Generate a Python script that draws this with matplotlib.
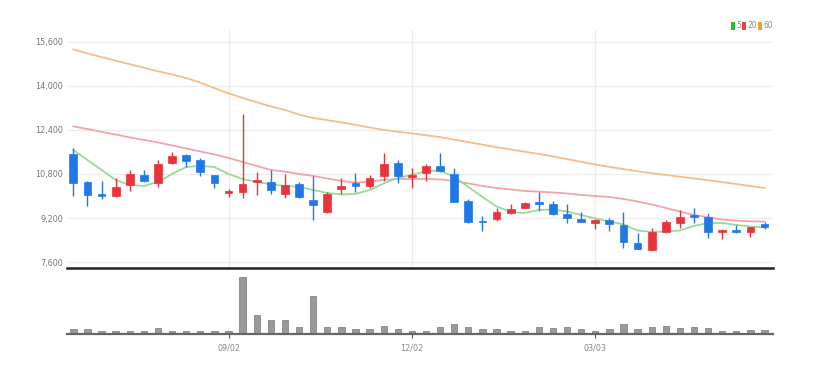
import matplotlib
matplotlib.use("Agg")
import matplotlib.pyplot as plt
from matplotlib.patches import Rectangle
import numpy as np

# ---------------- data (weekly candles) ----------------
opens = [11515, 10499, 10086, 10013, 10401, 10764, 10485, 11210, 11490, 11308,
         10764, 10111, 10158, 10521, 10499, 10064, 10437, 9868, 9432, 10267,
         10474, 10365, 10717, 11199, 10702, 10826, 11101, 10789, 9821, 9106,
         9168, 9374, 9578, 9774, 9723, 9338, 9157, 9012, 9142, 8950,
         8286, 8043, 8707, 9033, 9313, 9251, 8696, 8780, 8707, 8975]
highs = [11733, 10546, 10546, 10655, 10934, 10945, 11319, 11609, 11515, 11370,
         10764, 10245, 12977, 10862, 10934, 10789, 10521, 10739, 10136, 10666,
         10847, 10764, 11551, 11308, 11007, 11174, 11551, 11007, 9893, 9287,
         9556, 9701, 9795, 10136, 9821, 9712, 9411, 9157, 9193, 9411,
         8649, 8852, 9131, 9494, 9578, 9375, 8805, 8950, 8888, 9070]
lows = [10013, 9650, 9893, 9966, 10183, 10521, 10318, 11174, 11065, 10739,
        10281, 9977, 9919, 10038, 10064, 9919, 9940, 9131, 9374, 10064,
        10136, 10303, 10546, 10463, 10281, 10546, 10884, 9774, 9022, 8732,
        9095, 9338, 9556, 9458, 9313, 9012, 9048, 8805, 8732, 8105,
        8079, 8018, 8649, 8830, 9012, 8467, 8442, 8671, 8526, 8805]
closes = [10463, 10038, 10013, 10318, 10789, 10546, 11174, 11453, 11283, 10884,
          10463, 10172, 10437, 10593, 10220, 10390, 9977, 9665, 10086, 10354,
          10376, 10655, 11174, 10717, 10764, 11101, 10909, 9795, 9048, 9048,
          9411, 9520, 9759, 9712, 9360, 9193, 9059, 9120, 8986, 8322,
          8079, 8707, 9070, 9251, 9240, 8707, 8769, 8696, 8867, 8888]
ma5 = [11671, 11308, 10945, 10583, 10401, 10365, 10510, 10800, 11054, 11090,
       11054, 10800, 10619, 10510, 10419, 10365, 10329, 10220, 10111, 10057,
       10075, 10220, 10455, 10655, 10764, 10909, 10927, 10691, 10329, 9966,
       9621, 9422, 9385, 9494, 9512, 9440, 9313, 9186, 9077, 8968,
       8750, 8696, 8714, 8750, 8914, 9022, 9022, 8950, 8896, 8859]
ma20 = [12523, 12433, 12324, 12233, 12124, 12034, 11943, 11834, 11725, 11616,
        11508, 11381, 11236, 11090, 10945, 10884, 10800, 10728, 10637, 10546,
        10484, 10528, 10583, 10619, 10619, 10619, 10601, 10546, 10456, 10365,
        10292, 10238, 10183, 10158, 10129, 10093, 10038, 10002, 9966, 9893,
        9803, 9694, 9567, 9440, 9313, 9229, 9149, 9106, 9084, 9070]
ma60 = [15317, 15172, 15038, 14907, 14780, 14653, 14526, 14406, 14279, 14109,
        13913, 13724, 13558, 13401, 13249, 13122, 12952, 12832, 12752, 12672,
        12578, 12487, 12397, 12331, 12270, 12204, 12135, 12045, 11954, 11863,
        11773, 11689, 11606, 11526, 11435, 11337, 11239, 11141, 11058, 10978,
        10898, 10829, 10764, 10702, 10637, 10571, 10506, 10434, 10361, 10292]
volumes = [5, 5, 3.3, 2.7, 3.3, 2.7, 5.7, 3.3, 2.7, 2.7,
           2.7, 2.7, 56, 18.3, 14, 14, 7, 37, 7, 7,
           5.3, 5.3, 8.3, 5, 3.3, 3.3, 6.7, 10.3, 7, 5,
           5, 3.3, 3.3, 6.7, 5.7, 6.7, 5, 3.3, 5, 10,
           5, 6.7, 8.3, 6.3, 6.7, 6.3, 3.3, 3, 3.7, 3.7]
tick_idx = [11, 24, 37]
tick_labels = ["09/02", "12/02", "03/03"]
price_ticks = [7600, 9200, 10800, 12400, 14000, 15600]
legend_labels = ["5", "20", "60"]

# ---------------- style ----------------
UP = "#e8323c"
DOWN = "#1f78e6"
C5 = "#9ad99a"
C20 = "#f5a3ab"
C60 = "#f8bd86"
LEG = ["#2fb82f", "#f0404a", "#f0a033"]
FONT = dict(family="DejaVu Sans", stretch="condensed")
W, H = 818, 374

fig = plt.figure(figsize=(W / 100, H / 100), dpi=100)
x0, x1 = 67, 773
ax = fig.add_axes([x0 / W, 1 - 268 / H, (x1 - x0) / W, (268 - 30) / H])
axv = fig.add_axes([x0 / W, 1 - 334 / H, (x1 - x0) / W, (334 - 271) / H])

n = len(opens)
xs = np.arange(n)
xlim = (-0.45, 49.6)

# price panel
for t in price_ticks:
    ax.axhline(t, color="#ececec", lw=0.9, zorder=0)
for t in tick_idx:
    ax.axvline(t, color="#ececec", lw=0.9, zorder=0)

ax.plot(xs, ma60, color=C60, lw=1.3, zorder=2)
ax.plot(xs, ma20, color=C20, lw=1.3, zorder=2)
ax.plot(xs, ma5, color=C5, lw=1.3, zorder=2)

bw = 0.55
for i in range(n):
    o, h, l, c = opens[i], highs[i], lows[i], closes[i]
    col = UP if c >= o else DOWN
    ax.vlines(i, l, h, color=col, lw=1.0, zorder=3)
    bot = min(o, c)
    hgt = max(abs(c - o), 40)
    ax.add_patch(Rectangle((i - bw / 2, bot), bw, hgt, facecolor=col,
                           edgecolor=col, lw=0.5, zorder=4))

ax.set_xlim(*xlim)
ax.set_ylim(7390, 16020)
ax.set_yticks(price_ticks)
ax.set_yticklabels([f"{t:,}" for t in price_ticks], fontsize=6.5,
                   color="#777777", **FONT)
ax.tick_params(axis="y", length=0, pad=3)
ax.set_xticks([])
for s in ["top", "left", "right"]:
    ax.spines[s].set_visible(False)
ax.spines["bottom"].set_color("#222222")
ax.spines["bottom"].set_linewidth(1.8)

# volume panel
axv.bar(xs, volumes, width=0.45, color="#9a9a9a", edgecolor="#777777",
        lw=0.5, zorder=2)
axv.set_xlim(*xlim)
axv.set_ylim(0, 62)
axv.set_yticks([])
axv.set_xticks(tick_idx)
axv.set_xticklabels(tick_labels, fontsize=6.5, color="#888888", **FONT)
axv.tick_params(axis="x", length=3, width=0.8, color="#555555", pad=4)
for s in ["top", "left", "right"]:
    axv.spines[s].set_visible(False)
axv.spines["bottom"].set_color("#666666")
axv.spines["bottom"].set_linewidth(1.6)

# legend
lx = [731, 742, 758]
for px, col, lab in zip(lx, LEG, legend_labels):
    fig.patches.append(Rectangle((px / W, 1 - 30 / H), 4 / W, 8 / H,
                                 transform=fig.transFigure, facecolor=col,
                                 edgecolor="none"))
    fig.text((px + 5) / W, 1 - 26 / H, lab, fontsize=6, color="#888888",
             va="center", ha="left", **FONT)

fig.savefig("out.png", dpi=100, facecolor="white")
